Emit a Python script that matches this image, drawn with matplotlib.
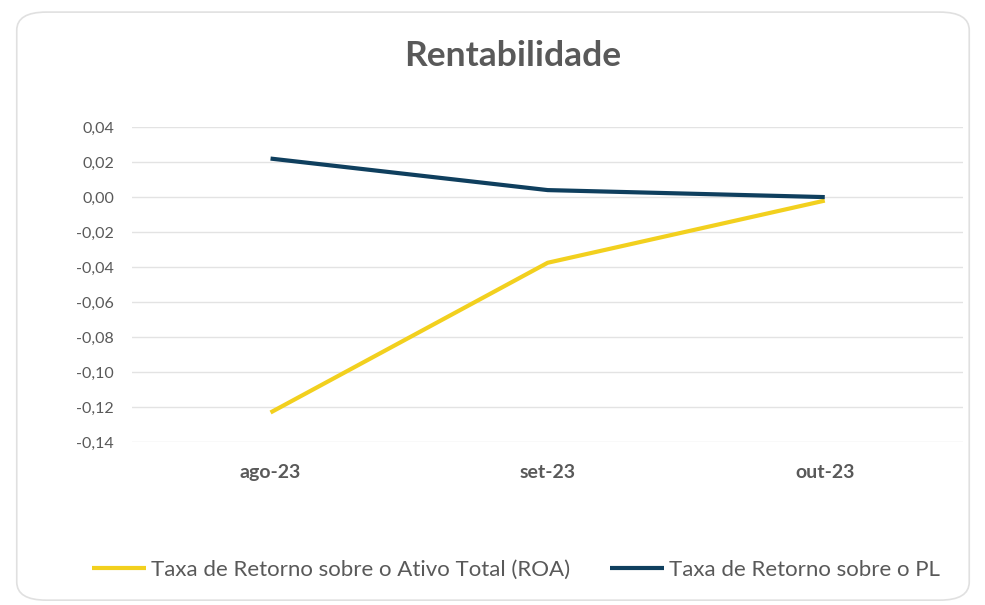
import numpy as np
import matplotlib.pyplot as plt
from matplotlib.patches import FancyBboxPatch
from matplotlib.ticker import FuncFormatter

plt.rcParams['font.family'] = ['Lato', 'DejaVu Sans']

months = ['ago-23', 'set-23', 'out-23']
roa = [-0.123, -0.0375, -0.002]
roe = [0.022, 0.004, 0.000]
labels = ['Taxa de Retorno sobre o Ativo Total (ROA)', 'Taxa de Retorno sobre o PL']
colors = ['#F2D01E', '#0F3F5E']

fig = plt.figure(figsize=(9.85, 6.05), dpi=100)
border = FancyBboxPatch((0.017, 0.008), 0.967, 0.972,
                        boxstyle='round,pad=0,rounding_size=0.03',
                        transform=fig.transFigure, facecolor='white',
                        edgecolor='#E0E0E0', linewidth=1.2, zorder=-1)
fig.patches.append(border)

ax = fig.add_axes([0.134, 0.269, 0.844, 0.521])
x = np.arange(len(months))
ax.plot(x, roa, color=colors[0], lw=3, label=labels[0], solid_capstyle='butt')
ax.plot(x, roe, color=colors[1], lw=3, label=labels[1], solid_capstyle='butt')

ax.set_xlim(-0.5, 2.5)
ax.set_ylim(-0.14, 0.04)
ax.set_yticks(np.arange(-0.14, 0.041, 0.02))
ax.yaxis.set_major_formatter(FuncFormatter(lambda v, p: f'{v:.2f}'.replace('.', ',').replace('-0,00', '0,00')))
ax.set_xticks(x)
ax.set_xticklabels(months, fontweight='bold')
ax.tick_params(axis='x', length=0, pad=16, labelsize=14, labelcolor='#595959')
ax.tick_params(axis='y', length=0, pad=13, labelsize=11.5, labelcolor='#595959')
ax.grid(axis='y', color='#E3E3E3', lw=1)
ax.set_axisbelow(True)
for s in ax.spines.values():
    s.set_visible(False)
ax.patch.set_alpha(0)

fig.text(0.52, 0.907, 'Rentabilidade', ha='center', va='center', fontsize=25.5,
         color='#595959', fontweight='bold')

fig.legend(loc='center', bbox_to_anchor=(0.524, 0.058), ncol=2, frameon=False,
           fontsize=16, labelcolor='#595959', handlelength=2.4, handletextpad=0.25,
           columnspacing=1.8)

fig.savefig('out.png', dpi=100)
